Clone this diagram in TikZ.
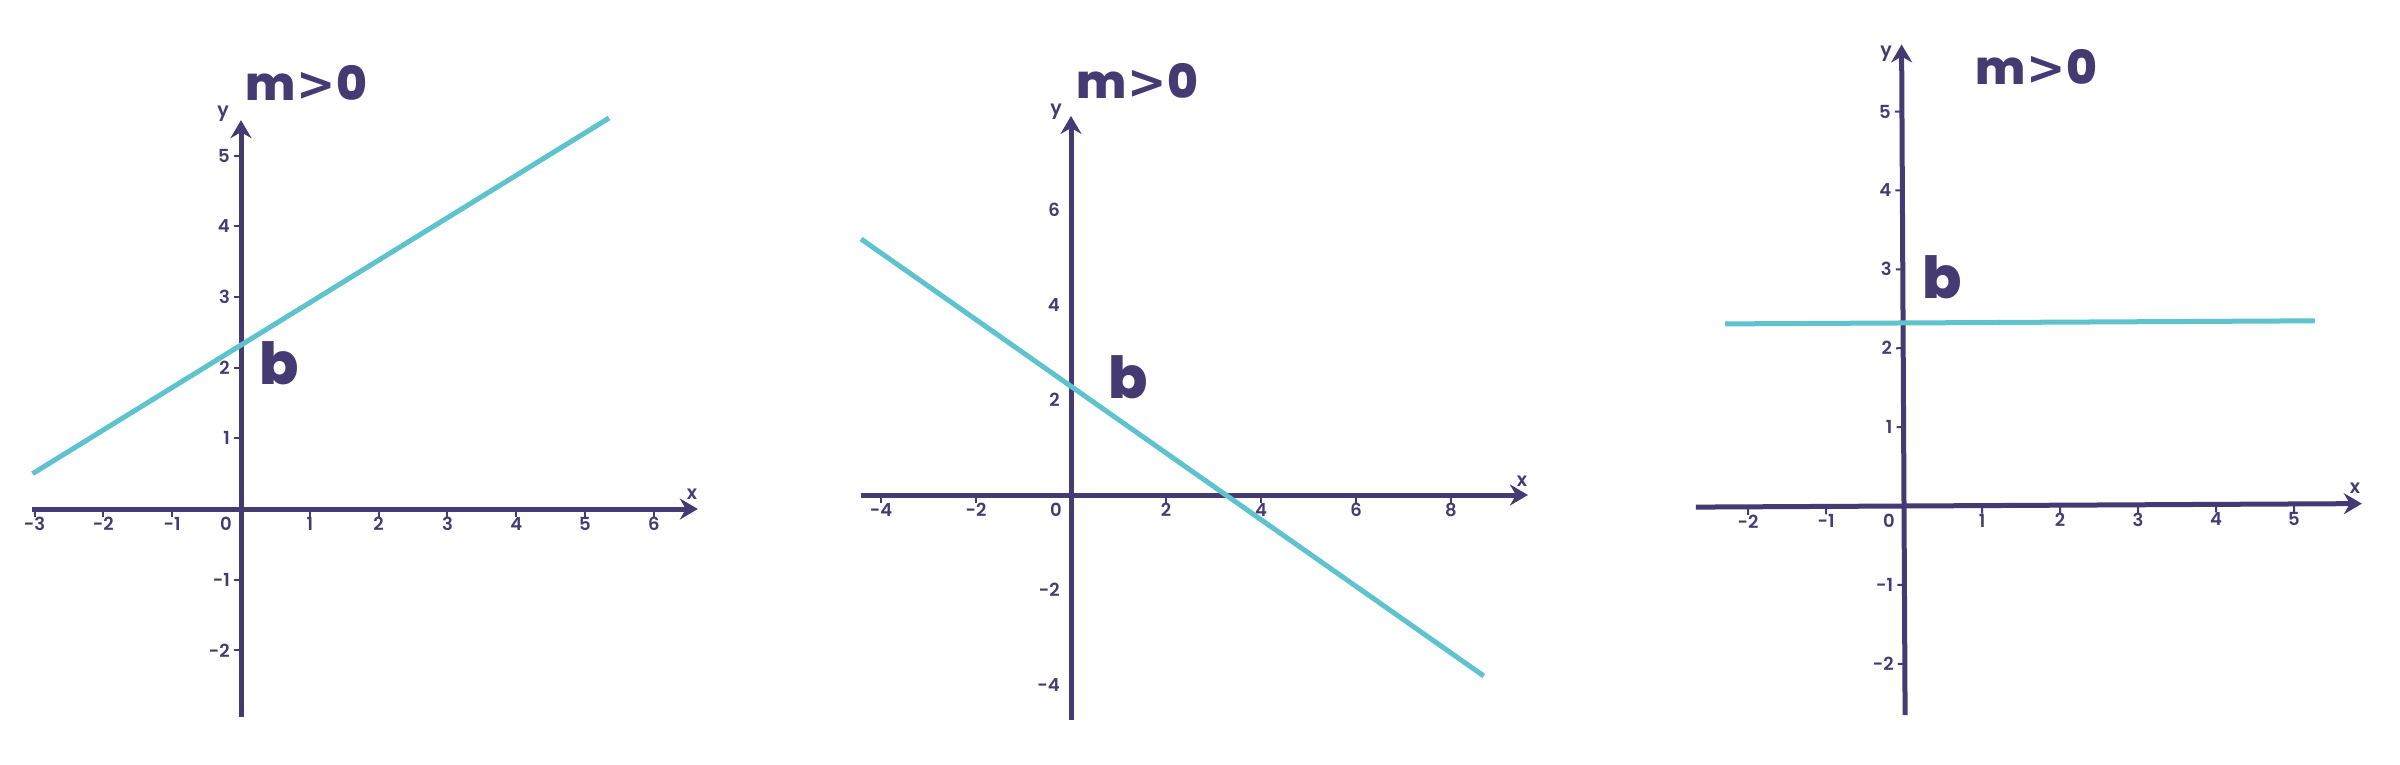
\documentclass[tikz,border=0pt]{standalone}
\usepackage{fontspec}
\setmainfont{Poppins}
\newfontfamily\pmedium{Poppins}[UprightFont=* SemiBold]
\newfontfamily\pheavy{Poppins}[UprightFont=* ExtraBold]
\newfontfamily\gtfont{DejaVu Sans}
\usetikzlibrary{arrows.meta}
\definecolor{axc}{HTML}{463A73}
\definecolor{lnc}{HTML}{5EC3CD}
\newcommand{\tickfont}{\pmedium\fontsize{18}{20}\selectfont}
\newcommand{\letfont}{\pmedium\fontsize{19}{20}\selectfont}
\newcommand{\ttlfont}{\pheavy\fontsize{47}{50}\selectfont}
\newcommand{\bfont}{\pheavy\fontsize{58}{60}\selectfont}
\newcommand{\mgt}{m{\gtfont\bfseries\kern1pt>\kern1pt}0}
\tikzset{
  axisline/.style={line width=5pt, draw=axc, -{Stealth[length=18pt,width=21pt,inset=6pt]}},
  plotline/.style={line width=5pt, draw=lnc},
  tickmark/.style={line width=2pt, draw=axc},
  ticklabel/.style={text=axc, font=\tickfont, inner sep=0pt},
  axislabel/.style={text=axc, font=\letfont, inner sep=0pt, anchor=base},
  titlelabel/.style={text=axc, font=\ttlfont, inner sep=0pt, anchor=base west},
  blabel/.style={text=axc, font=\bfont, inner sep=0pt, anchor=base west}
}
\begin{document}
\begin{tikzpicture}[x=1pt,y=-1pt]
\useasboundingbox (0,0) rectangle (2400,764);
\fill[white] (0,0) rectangle (2400,764);

% ---------- Panel 1 ----------
\begin{scope}[shift={(241,509)}, x=68.8pt, y=70.7pt]
  \coordinate (p1xl) at (-3.04,0);
  \coordinate (p1xr) at (6.64,0);
  \coordinate (p1yb) at (0,-2.94);
  \coordinate (p1yt) at (0,5.5);
  \coordinate (p1la) at (-3.03,0.5);
  \coordinate (p1lb) at (5.35,5.53);
  \foreach \i in {-3,-2,-1,1,2,3,4,5,6}{
    \coordinate (p1tx\i) at (\i,0);
    \draw[tickmark] (p1tx\i) -- ++(0pt,-8pt);
    \node[ticklabel, yshift=-15pt] (p1lx\i) at (p1tx\i) {\i};
  }
  \foreach \j in {-2,-1,1,2,3,4,5}{
    \coordinate (p1ty\j) at (0,\j);
    \draw[tickmark] (p1ty\j) -- ++(-7pt,0pt);
    \node[ticklabel, anchor=east, xshift=-11pt] (p1ly\j) at (p1ty\j) {\j};
  }
  \node[ticklabel, xshift=-15pt, yshift=-15pt] (p1zero) at (0,0) {0};
  \draw[axisline] (p1xl) -- (p1xr);
  \draw[axisline] (p1yb) -- (p1yt);
  \draw[plotline] (p1la) -- (p1lb);
\end{scope}
\node[axislabel] (p1ylab) at (223,116) {y};
\node[axislabel] (p1xlab) at (692,499) {x};
\node[titlelabel] (p1title) at (245,100) {\mgt};
\node[blabel] (p1b) at (259,384) {b};

% ---------- Panel 2 ----------
\begin{scope}[shift={(1071,495)}, x=47.5pt, y=47.5pt]
  \coordinate (p2xl) at (-4.42,0);
  \coordinate (p2xr) at (9.62,0);
  \coordinate (p2yb) at (0,-4.74);
  \coordinate (p2yt) at (0,7.98);
  \coordinate (p2la) at (-4.42,5.39);
  \coordinate (p2lb) at (8.69,-3.81);
  \foreach \i in {-4,-2,2,4,6,8}{
    \coordinate (p2tx\i) at (\i,0);
    \draw[tickmark] (p2tx\i) -- ++(0pt,-8pt);
    \node[ticklabel, yshift=-15pt] (p2lx\i) at (p2tx\i) {\i};
  }
  \foreach \j in {-4,-2,2,4,6}{
    \coordinate (p2ty\j) at (0,\j);
    \node[ticklabel, anchor=east, xshift=-11pt] (p2ly\j) at (p2ty\j) {\j};
  }
  \node[ticklabel, xshift=-15pt, yshift=-15pt] (p2zero) at (0,0) {0};
  \draw[axisline] (p2xl) -- (p2xr);
  \draw[axisline] (p2yb) -- (p2yt);
  \draw[plotline] (p2la) -- (p2lb);
\end{scope}
\node[axislabel] (p2ylab) at (1056,114) {y};
\node[axislabel] (p2xlab) at (1522,486) {x};
\node[titlelabel] (p2title) at (1076,98) {\mgt};
\node[blabel] (p2b) at (1108,398) {b};

% ---------- Panel 3 ----------
\begin{scope}[shift={(1904,506)}, x=78pt, y=78.9pt, rotate=0.3]
  \coordinate (p3xl) at (-2.67,0);
  \coordinate (p3xr) at (5.87,0);
  \coordinate (p3yb) at (0,-2.65);
  \coordinate (p3yt) at (0,5.85);
  \coordinate (p3la) at (-2.28,2.32);
  \coordinate (p3lb) at (5.28,2.32);
  \foreach \i in {-2,-1,1,2,3,4,5}{
    \coordinate (p3tx\i) at (\i,0);
    \draw[tickmark] (p3tx\i) -- ++(0pt,-8pt);
    \node[ticklabel, yshift=-15pt] (p3lx\i) at (p3tx\i) {\i};
  }
  \foreach \j in {-2,-1,1,2,3,4,5}{
    \coordinate (p3ty\j) at (0,\j);
    \draw[tickmark] (p3ty\j) -- ++(-7pt,0pt);
    \node[ticklabel, anchor=east, xshift=-11pt] (p3ly\j) at (p3ty\j) {\j};
  }
  \node[ticklabel, xshift=-15pt, yshift=-15pt] (p3zero) at (0,0) {0};
  \draw[axisline] (p3xl) -- (p3xr);
  \draw[axisline] (p3yb) -- (p3yt);
  \draw[plotline] (p3la) -- (p3lb);
\end{scope}
\node[axislabel] (p3ylab) at (1886,56) {y};
\node[axislabel] (p3xlab) at (2355,493) {x};
\node[titlelabel] (p3title) at (1975,84) {\mgt};
\node[blabel] (p3b) at (1922,298) {b};
\end{tikzpicture}
\end{document}
